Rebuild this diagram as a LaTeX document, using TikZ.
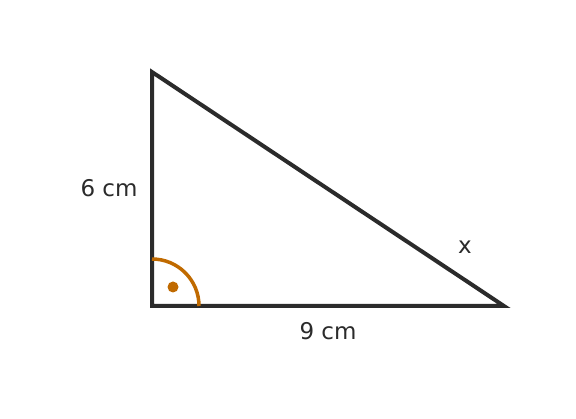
\documentclass[tikz,border=0pt]{standalone}
\usepackage{fontspec}
\setmainfont{DejaVu Sans}
\definecolor{ink}{HTML}{2B2B2B}
\definecolor{anglecol}{HTML}{C06A00}
\begin{document}
\begin{tikzpicture}[x=1pt,y=1pt,
  side/.style={draw=ink,line width=4pt,line join=miter},
  lbl/.style={text=ink,font=\fontsize{23}{26}\selectfont,inner sep=0pt}]
\useasboundingbox (0,0) rectangle (576,418);
\coordinate (A) at (152,346);
\coordinate (B) at (152,112);
\coordinate (C) at (504,112);
\draw[side] (A) -- (B) -- (C) -- cycle;
\draw[anglecol,line width=3.5pt] ([yshift=47pt]B) arc[start angle=90,end angle=0,radius=47pt];
\fill[anglecol] (173,131) circle (5.5pt);
\node[lbl] (l6) at (109,230) {6 cm};
\node[lbl] (l9) at (328,87) {9 cm};
\node[lbl] (lx) at (465,171) {x};
\end{tikzpicture}
\end{document}
